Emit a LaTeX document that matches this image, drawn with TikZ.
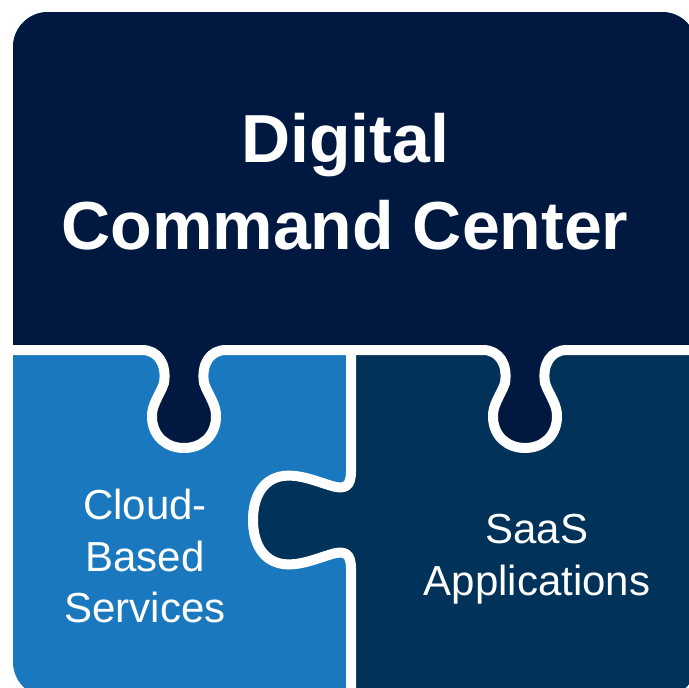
\documentclass[tikz,border=0pt]{standalone}
\usepackage{fontspec}
\setmainfont{Liberation Sans}

\definecolor{azulTopo}{RGB}{1,25,64}
\definecolor{azulNuvem}{RGB}{26,121,190}
\definecolor{azulSaas}{RGB}{0,50,90}

% Cortes entre as peças
\newcommand{\corteh}{(0,350) -- (142,350)
	.. controls (158,350) and (167,364) .. (164,383) .. controls (160,395) and (151,405) .. (152,418)
	.. controls (153,437) and (167,448) .. (184,448) .. controls (201,448) and (215,437) .. (216,418)
	.. controls (217,405) and (208,395) .. (204,383) .. controls (201,364) and (210,350) .. (226,350)
	-- (483,350)
	.. controls (499,350) and (508,364) .. (505,383) .. controls (501,395) and (492,405) .. (493,418)
	.. controls (494,437) and (508,448) .. (525,448) .. controls (542,448) and (556,437) .. (557,418)
	.. controls (558,405) and (549,395) .. (545,383) .. controls (542,364) and (551,350) .. (567,350)
	-- (700,350)}
\newcommand{\cortev}{(351,350) -- (351,472)
	.. controls (351,486) and (345,490) .. (332,486) .. controls (315,481) and (300,474) .. (283,476)
	.. controls (262,479) and (253,498) .. (253,520) .. controls (253,542) and (262,561) .. (283,564)
	.. controls (300,566) and (315,559) .. (332,554) .. controls (345,550) and (351,554) .. (351,568)
	-- (351,700)}

\begin{document}
\begin{tikzpicture}[x=1pt, y=-1pt,
		corte/.style={white, line width=10pt},
		titulo/.style={text=white, align=center, inner sep=0pt, font=\fontsize{68}{87}\selectfont\bfseries},
		rotulo/.style={text=white, align=center, inner sep=0pt, font=\fontsize{42}{51.5}\selectfont}]
	\useasboundingbox (0,0) rectangle (689,688);
	
	\begin{scope}
		\clip[rounded corners=35pt] (13,12) rectangle (697,697);			% Contorno
		\fill[azulNuvem] (0,0) rectangle (700,700);							% Peça Cloud
		\fill[azulSaas] (700,300) -- (351,300) -- \cortev -- (700,700) -- cycle;	% Peça SaaS
		\fill[azulTopo] (0,0) -- \corteh -- (700,0) -- cycle;				% Peça superior
		\draw[corte] \corteh;												% Corte horizontal
		\draw[corte] \cortev;												% Corte vertical
	\end{scope}
	
	% Rótulos
	\node[titulo] (titulo) at (345,182) {Digital\\Command Center};
	\node[rotulo] (nuvem) at (145,556) {Cloud-\\Based\\Services};
	\node[rotulo] (saas) at (537,559) {SaaS\\Applications};
\end{tikzpicture}
\end{document}
